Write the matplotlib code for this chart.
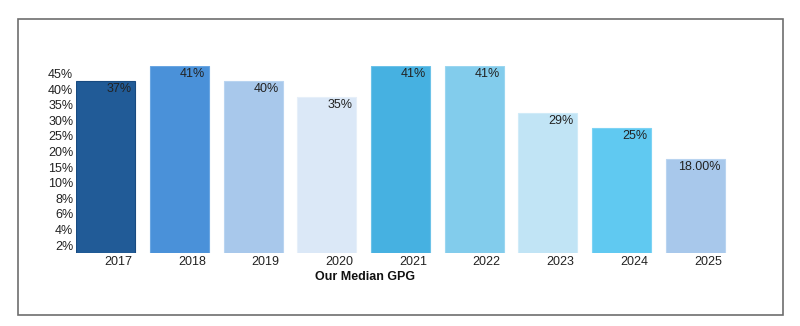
import matplotlib
matplotlib.use("Agg")
import matplotlib.pyplot as plt
from matplotlib.patches import Rectangle
import numpy as np

plt.rcParams['font.family'] = ['Liberation Sans', 'DejaVu Sans']
plt.rcParams['font.size'] = 9

# Data
years = ['2017', '2018', '2019', '2020', '2021', '2022', '2023', '2024', '2025']
value_labels = ['37%', '41%', '40%', '35%', '41%', '41%', '29%', '25%', '18.00%']
# bar height in axis bands (the y axis is a banded, non-linear scale)
bar_levels = [11, 12, 11, 10, 12, 12, 9, 8, 6]
ytick_labels = ['2%', '4%', '6%', '8%', '10%', '15%', '20%', '25%', '30%', '35%', '40%', '45%']

bar_colors = ['#215B97', '#4A91D9', '#A8C8EB', '#DBE8F7', '#46B1E1',
              '#82CCEC', '#C1E4F5', '#60C9F1', '#A8C8EB']
edge_colors = ['#184A80', '#6AA6E2', '#B9D4F0', '#E6EFF9', '#6CC2E8',
               '#9AD6F0', '#D0EBF8', '#7DD3F4', '#B9D4F0']

W, H = 800, 326
fig = plt.figure(figsize=(W / 100, H / 100), dpi=100)

# axes placed in pixels
ax_left, ax_right = 76.3, 732.2
ax_bottom, ax_top = 253.0, 65.7
ax = fig.add_axes([ax_left / W, 1 - ax_bottom / H,
                   (ax_right - ax_left) / W, (ax_bottom - ax_top) / H])

x = np.arange(len(years))
ax.bar(x, bar_levels, width=0.8, color=bar_colors, edgecolor=edge_colors, linewidth=0.8)
ax.set_xlim(-0.4, 8.5)
ax.set_ylim(0, 12)

for s in ax.spines.values():
    s.set_visible(False)

ax.set_yticks(np.arange(len(ytick_labels)) + 0.5)
ax.set_yticklabels(ytick_labels, color='#222222')
ax.tick_params(axis='y', length=0, pad=2.2)

ax.set_xticks(x + 0.4 - 3 / 73.7)
ax.set_xticklabels(years, ha='right', color='#222222')
ax.tick_params(axis='x', length=0, pad=2.5)

for xi, lvl, lab in zip(x, bar_levels, value_labels):
    ax.annotate(lab, (xi + 0.4, lvl), xytext=(-4, -8), textcoords='offset pixels',
                ha='right', va='center', color='#222222')

fig.text(365 / W, 1 - 276.7 / H, 'Our Median GPG', ha='center', va='center',
         fontweight='bold', color='#111111')

fig.add_artist(Rectangle((17.7 / W, 1 - 315 / H), 765 / W, 296 / H, fill=False,
                         edgecolor='#6e6e6e', linewidth=1.2, transform=fig.transFigure))

fig.savefig('out.png', dpi=100)
